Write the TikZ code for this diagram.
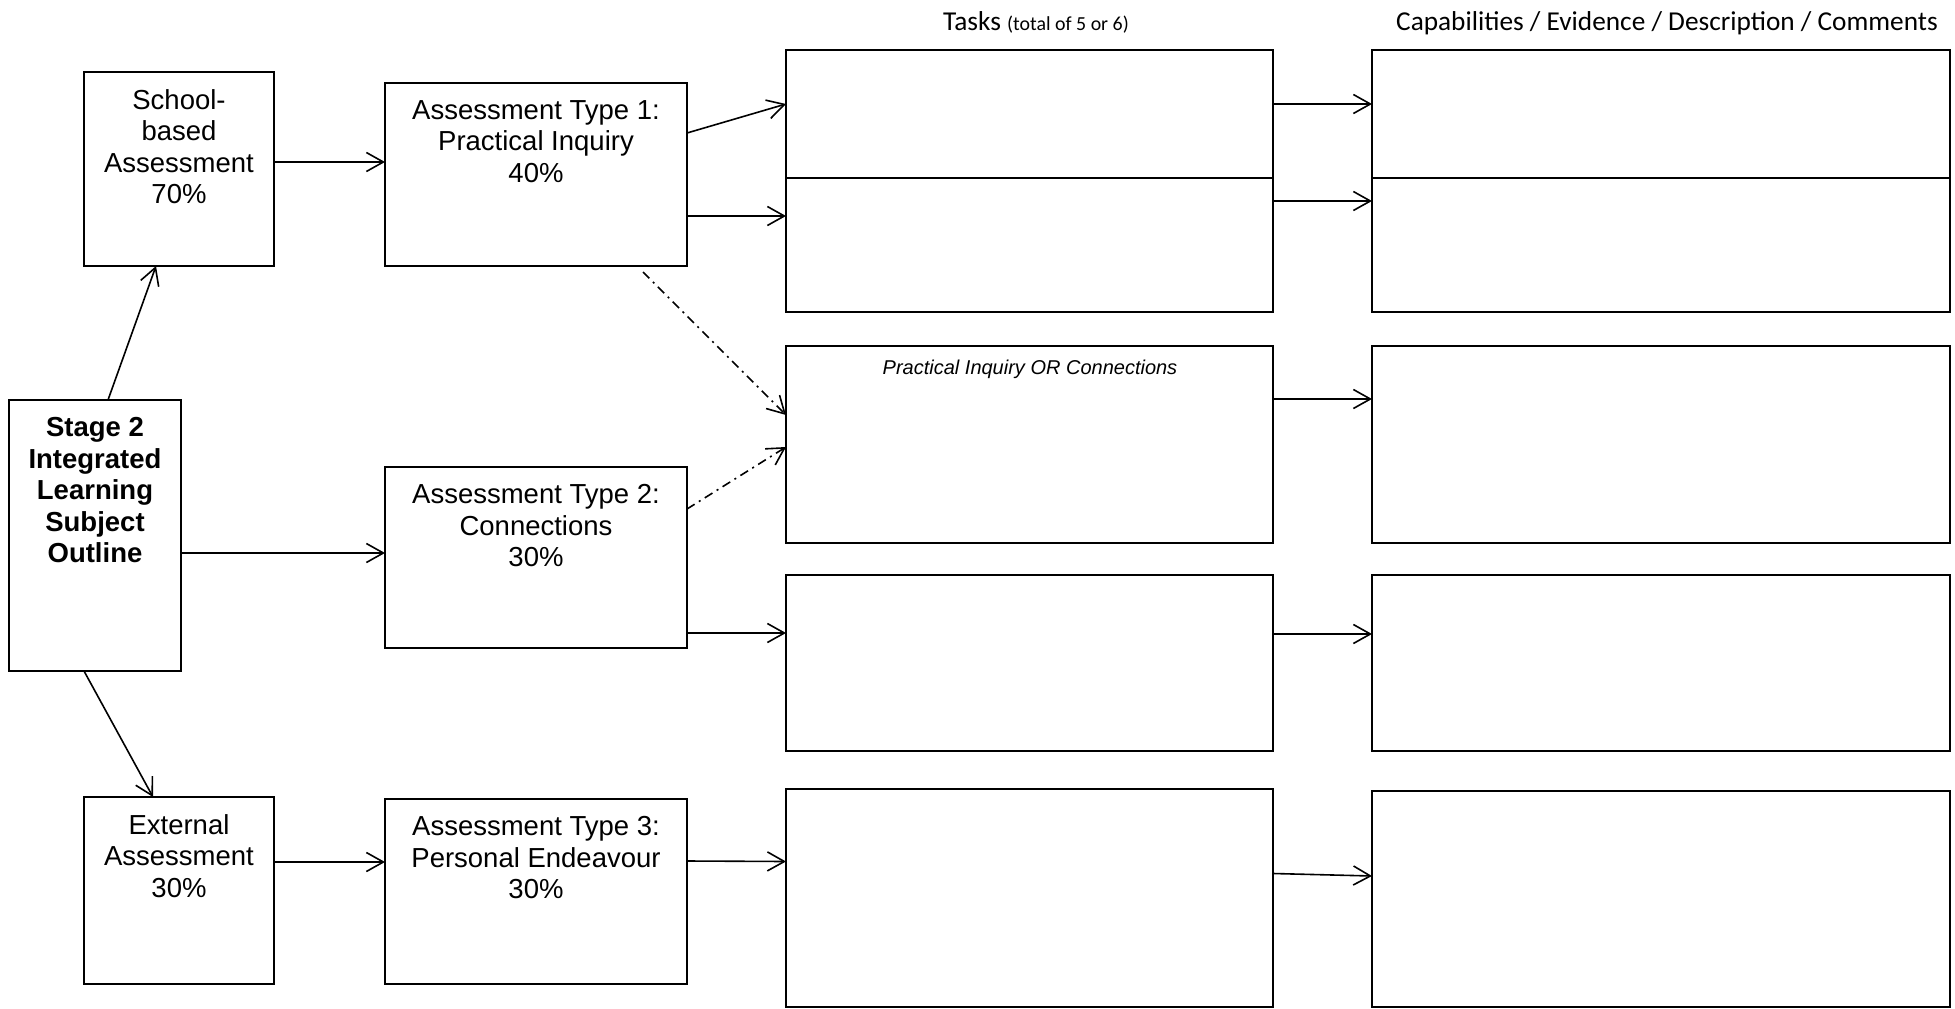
\documentclass[tikz,border=0pt]{standalone}
\usepackage{fontspec}
\setmainfont{Liberation Sans}
\newfontfamily\calibri{Carlito}
\usetikzlibrary{arrows.meta,calc}
\begin{document}
\begin{tikzpicture}[x=1pt,y=-1pt,
 box/.style={draw, line width=2pt, inner sep=0pt, outer sep=0pt},
 lbl/.style={anchor=north, align=center, inner sep=0pt, font=\fontsize{27.5}{31.6}\selectfont},
 blbl/.style={lbl, font=\fontsize{27.5}{31.6}\selectfont\bfseries},
 arr/.style={line width=1.6pt, -{Straight Barb[length=17pt,width=19pt,line width=1.6pt]}},
 dd/.style={arr, dash pattern=on 9pt off 5pt on 2pt off 5pt},
 head/.style={anchor=base, inner sep=0pt, font=\calibri\fontsize{27.3}{32}\selectfont},
]
\useasboundingbox (0,0) rectangle (1955,1009);

% left column
\node[box, minimum width=172pt, minimum height=271pt] (stage) at (95,535.5) {};
\node[box, minimum width=190pt, minimum height=194pt] (school) at (179,169) {};
\node[box, minimum width=190pt, minimum height=187pt] (external) at (179,890.5) {};

% assessment types
\node[box, minimum width=302pt, minimum height=183pt] (at1) at (536,174.5) {};
\node[box, minimum width=302pt, minimum height=181pt] (at2) at (536,557.5) {};
\node[box, minimum width=302pt, minimum height=185pt] (at3) at (536,891.5) {};

% tasks column
\node[box, minimum width=487pt, minimum height=128pt] (task1) at (1029.5,114) {};
\node[box, minimum width=487pt, minimum height=134pt] (task2) at (1029.5,245) {};
\node[box, minimum width=487pt, minimum height=197pt] (task3) at (1029.5,444.5) {};
\node[box, minimum width=487pt, minimum height=176pt] (task4) at (1029.5,663) {};
\node[box, minimum width=487pt, minimum height=218pt] (task5) at (1029.5,898) {};

% capabilities column
\node[box, minimum width=578pt, minimum height=128pt] (cap1) at (1661,114) {};
\node[box, minimum width=578pt, minimum height=134pt] (cap2) at (1661,245) {};
\node[box, minimum width=578pt, minimum height=197pt] (cap3) at (1661,444.5) {};
\node[box, minimum width=578pt, minimum height=176pt] (cap4) at (1661,663) {};
\node[box, minimum width=578pt, minimum height=216pt] (cap5) at (1661,899) {};

% texts
\node[blbl] (stageT) at ($(stage.north)+(0,17)$) {Stage 2\\Integrated\\Learning\\Subject\\Outline};
\node[lbl] (schoolT) at ($(school.north)+(0,17)$) {School-\\based\\Assessment\\70\%};
\node[lbl] (externalT) at ($(external.north)+(0,17)$) {External\\Assessment\\30\%};
\node[lbl] (at1T) at ($(at1.north)+(0,17)$) {Assessment Type 1:\\Practical Inquiry\\40\%};
\node[lbl] (at2T) at ($(at2.north)+(0,17)$) {Assessment Type 2:\\Connections\\30\%};
\node[lbl] (at3T) at ($(at3.north)+(0,17)$) {Assessment Type 3:\\Personal Endeavour\\30\%};

\node[head] (tasksH) at (1036,30.5) {Tasks {\fontsize{19.9}{24}\selectfont (total of 5 or 6)}};
\node[head] (capH) at (1667,30.5) {Capabilities / Evidence / Description / Comments};
\node[anchor=base, inner sep=0pt, font=\itshape\fontsize{20}{24}\selectfont] (orT) at (1030,374) {Practical Inquiry OR Connections};

% connectors
\draw[arr] ([xshift=13pt]stage.north) -- ([xshift=-23pt]school.south);
\draw[arr] ([xshift=-11pt]stage.south) -- ([xshift=-26pt]external.north);
\draw[arr] ([yshift=-17.5pt]stage.east) -- ([yshift=4.5pt]at2.west);
\draw[arr] ([yshift=7pt]school.east) -- ([yshift=12.5pt]at1.west);
\draw[arr] ([yshift=28.5pt]external.east) -- ([yshift=29.5pt]at3.west);

\draw[arr] ([yshift=41.5pt]at1.east) -- ([yshift=10pt]task1.west);
\draw[arr] ([yshift=-41.5pt]at1.east) -- ([yshift=29pt]task2.west);
\draw[dd] ([xshift=107pt,yshift=-6pt]at1.south) -- ([yshift=29.5pt]task3.west);
\draw[dd] ([yshift=48.5pt]at2.east) -- ([yshift=-2.5pt]task3.west);
\draw[arr] ([yshift=-75.5pt]at2.east) -- ([yshift=30pt]task4.west);
\draw[arr] ([yshift=30.5pt]at3.east) -- ([yshift=36.5pt]task5.west);

\draw[arr] ([yshift=10pt]task1.east) -- ([yshift=10pt]cap1.west);
\draw[arr] ([yshift=44pt]task2.east) -- ([yshift=44pt]cap2.west);
\draw[arr] ([yshift=45.5pt]task3.east) -- ([yshift=45.5pt]cap3.west);
\draw[arr] ([yshift=29pt]task4.east) -- ([yshift=29pt]cap4.west);
\draw[arr] ([yshift=24.5pt]task5.east) -- ([yshift=23pt]cap5.west);
\end{tikzpicture}
\end{document}
